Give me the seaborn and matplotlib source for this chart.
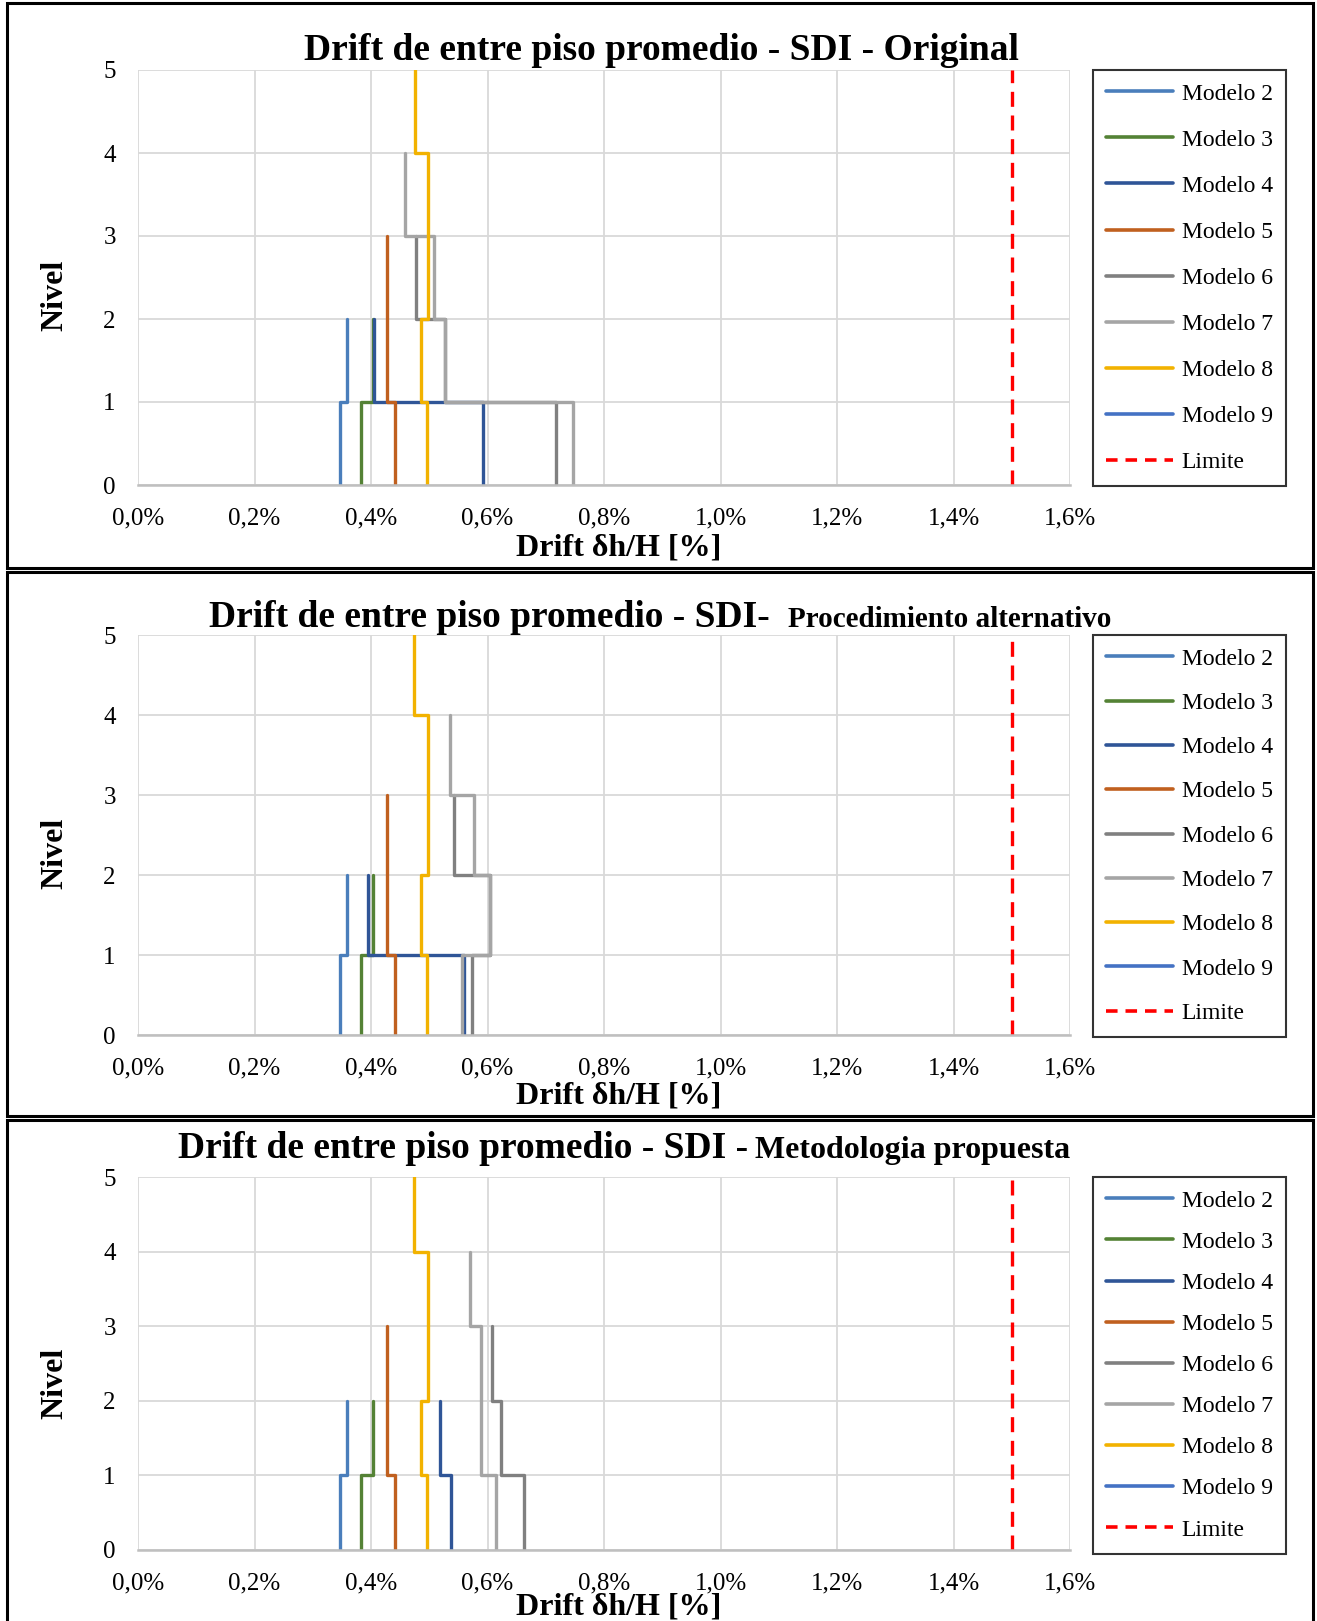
import numpy as np
import pandas as pd
import matplotlib
matplotlib.use("Agg")
import matplotlib.pyplot as plt
from matplotlib.lines import Line2D
from matplotlib.patches import Rectangle
from matplotlib.ticker import FuncFormatter, MultipleLocator
import seaborn as sns

sns.set_theme(style="white")
plt.rcParams["font.family"] = ["Liberation Serif", "DejaVu Serif"]
plt.rcParams["text.color"] = "black"
plt.rcParams["xtick.color"] = "black"
plt.rcParams["ytick.color"] = "black"

# --- data -----------------------------------------------------------------
MODELOS = ["Modelo 2", "Modelo 3", "Modelo 4", "Modelo 5",
           "Modelo 6", "Modelo 7", "Modelo 8", "Modelo 9"]
COLORES = ["#4a7ebb", "#548235", "#2f5597", "#c0601f",
           "#808080", "#a5a5a5", "#f2b200", "#4472c4"]
LIMITE = 1.5          # drift limit [%]
NIVEL_MAX = 5
X_TICKS = [0.0, 0.2, 0.4, 0.6, 0.8, 1.0, 1.2, 1.4, 1.6]

# story drift [%] per model, listed from story 1 upwards
original_m2 = [0.347, 0.358]
original_m3 = [0.383, 0.404]
original_m4 = [0.593, 0.405]
original_m5 = [0.441, 0.428, 0.428]
original_m6 = [0.718, 0.527, 0.478]
original_m7 = [0.747, 0.527, 0.508, 0.459]
original_m8 = [0.496, 0.485, 0.498, 0.498, 0.476]
original_m9 = []

alternativo_m2 = [0.347, 0.358]
alternativo_m3 = [0.383, 0.403]
alternativo_m4 = [0.560, 0.394]
alternativo_m5 = [0.441, 0.428, 0.428]
alternativo_m6 = [0.573, 0.604, 0.542]
alternativo_m7 = [0.557, 0.604, 0.577, 0.536]
alternativo_m8 = [0.496, 0.485, 0.498, 0.498, 0.474]
alternativo_m9 = []

propuesta_m2 = [0.347, 0.358]
propuesta_m3 = [0.383, 0.404]
propuesta_m4 = [0.537, 0.518]
propuesta_m5 = [0.441, 0.428, 0.428]
propuesta_m6 = [0.662, 0.623, 0.608]
propuesta_m7 = [0.614, 0.589, 0.589, 0.570]
propuesta_m8 = [0.496, 0.485, 0.498, 0.498, 0.474]
propuesta_m9 = []

PANELES = [
    [original_m2, original_m3, original_m4, original_m5,
     original_m6, original_m7, original_m8, original_m9],
    [alternativo_m2, alternativo_m3, alternativo_m4, alternativo_m5,
     alternativo_m6, alternativo_m7, alternativo_m8, alternativo_m9],
    [propuesta_m2, propuesta_m3, propuesta_m4, propuesta_m5,
     propuesta_m6, propuesta_m7, propuesta_m8, propuesta_m9],
]

# --- figure geometry (pixels) ----------------------------------------------
W, H = 1317, 1621
fig = plt.figure(figsize=(W / 100, H / 100), dpi=100)


def fx(px):
    return px / W


def fy(py):
    return 1 - py / H


AX_L, AX_R = 138, 1070
AX_Y = [(70, 485), (635, 1035), (1177, 1550)]
FRAMES = [(3, 568), (572, 1116), (1120, 1640)]
LEG_SPACING = [1.04, 0.965, 0.83]
XLABEL_Y = [548, 1096, 1607]
YLABEL_Y = [295, 853, 1383]


def perfil(derivas):
    """Stepped drift profile: each story drawn as a vertical segment."""
    xs, ys = [], []
    for i, d in enumerate(derivas):
        xs += [d, d]
        ys += [i, i + 1]
    return xs, ys


pct = FuncFormatter(lambda v, _: f"{v:.1f}%".replace(".", ","))

for k, datos in enumerate(PANELES):
    top, bot = AX_Y[k]
    ax = fig.add_axes([fx(AX_L), fy(bot), fx(AX_R - AX_L), (bot - top) / H])

    filas = []
    for modelo, derivas in zip(MODELOS, datos):
        xs, ys = perfil(derivas)
        for j, (x, y) in enumerate(zip(xs, ys)):
            filas.append({"modelo": modelo, "drift": x, "nivel": y, "orden": j})
    df = pd.DataFrame(filas)
    presentes = [m for m in MODELOS if m in set(df["modelo"])]
    sns.lineplot(data=df, x="drift", y="nivel", hue="modelo",
                 hue_order=presentes, palette=dict(zip(MODELOS, COLORES)),
                 sort=False, estimator=None, linewidth=2.4, legend=False,
                 ax=ax)
    sns.lineplot(x=[LIMITE, LIMITE], y=[0, NIVEL_MAX], color="#ff0000",
                 estimator=None, sort=False,
                 linewidth=2.4, linestyle=(0, (4.5, 2.6)), ax=ax)

    ax.set_xlim(X_TICKS[0], X_TICKS[-1])
    ax.set_ylim(0, NIVEL_MAX)
    ax.set_xticks(X_TICKS)
    ax.xaxis.set_major_formatter(pct)
    ax.yaxis.set_major_locator(MultipleLocator(1))
    ax.grid(True, color="#d9d9d9", linewidth=1.3)
    ax.set_axisbelow(True)
    for s in ("top", "right", "left"):
        ax.spines[s].set_visible(False)
    ax.spines["bottom"].set_color("#bfbfbf")
    ax.spines["bottom"].set_linewidth(1.8)
    ax.tick_params(axis="x", length=0, pad=16, labelsize=18,
                   labelcolor="black")
    ax.tick_params(axis="y", length=0, pad=16, labelsize=18,
                   labelcolor="black")
    ax.set_xlabel("")
    ax.set_ylabel("")

    handles = [Line2D([], [], color=c, lw=2.6) for c in COLORES]
    handles.append(Line2D([], [], color="#ff0000", lw=2.6,
                          linestyle=(0, (3.2, 2.2))))
    leg = ax.legend(handles, MODELOS + ["Limite"], loc="upper left",
                    bbox_to_anchor=(1.0247, 1.0), borderaxespad=0,
                    frameon=True, fancybox=False, fontsize=17,
                    handlelength=2.84, handletextpad=0.36, borderpad=0.55,
                    labelspacing=LEG_SPACING[k])
    leg.get_frame().set_edgecolor("black")
    leg.get_frame().set_linewidth(1.5)
    for t in leg.get_texts():
        t.set_color("black")

    fig.text(fx(619), fy(XLABEL_Y[k]), "Drift δh/H [%]", fontsize=23,
             fontweight="bold", ha="center", va="center")
    fig.text(fx(55), fy(YLABEL_Y[k]), "Nivel", fontsize=23,
             fontweight="bold", ha="center", va="center", rotation=90)

    f0, f1 = FRAMES[k]
    fig.add_artist(Rectangle((fx(7), fy(f1)), fx(1313 - 7), (f1 - f0) / H,
                             transform=fig.transFigure, fill=False,
                             edgecolor="black", linewidth=2.2))

# --- titles ----------------------------------------------------------------
fig.text(fx(661), fy(60), "Drift de entre piso promedio - SDI - Original",
         fontsize=27, fontweight="bold", ha="center", va="baseline")

fig.text(fx(209), fy(627), "Drift de entre piso promedio - SDI-",
         fontsize=27, fontweight="bold", ha="left", va="baseline")
fig.text(fx(788), fy(627), "Procedimiento alternativo",
         fontsize=21, fontweight="bold", ha="left", va="baseline")

fig.text(fx(178), fy(1158), "Drift de entre piso promedio - SDI - ",
         fontsize=27, fontweight="bold", ha="left", va="baseline")
fig.text(fx(755), fy(1158), "Metodologia propuesta",
         fontsize=23, fontweight="bold", ha="left", va="baseline")

fig.savefig("out.png", dpi=100, facecolor="white")
